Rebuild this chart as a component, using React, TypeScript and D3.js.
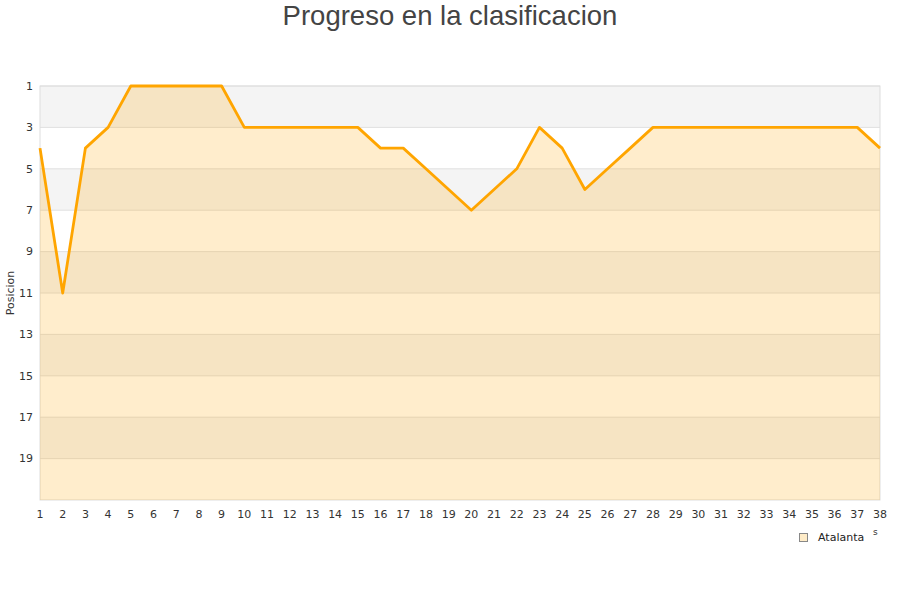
import { useEffect, useRef } from "react";
import * as d3 from "d3";

const rounds = d3.range(1, 39);
const positions = [
  4, 11, 4, 3, 1, 1, 1, 1, 1, 3, 3, 3, 3, 3, 3, 4, 4, 5, 6, 7, 6, 5, 3, 4, 6,
  5, 4, 3, 3, 3, 3, 3, 3, 3, 3, 3, 3, 4,
];
const yTicks = [1, 3, 5, 7, 9, 11, 13, 15, 17, 19];
const teamName = "Atalanta";

export default function App() {
  const svgRef = useRef<SVGSVGElement>(null);

  useEffect(() => {
    if (!svgRef.current) return;
    const width = 900;
    const height = 600;
    const margin = { top: 86, right: 20, bottom: 100, left: 40 };

    const svg = d3.select(svgRef.current);
    svg.selectAll("*").remove();

    const x = d3
      .scaleLinear()
      .domain([1, 38])
      .range([margin.left, width - margin.right]);
    const y = d3
      .scaleLinear()
      .domain([1, 21])
      .range([margin.top, height - margin.bottom]);

    // alternating bands
    yTicks.forEach((t, i) => {
      if (i % 2 === 0) {
        svg
          .append("rect")
          .attr("x", margin.left)
          .attr("y", y(t))
          .attr("width", x(38) - x(1))
          .attr("height", y(t + 2) - y(t))
          .attr("fill", "#f4f4f4");
      }
    });

    // gridlines
    yTicks.forEach((t) => {
      svg
        .append("line")
        .attr("x1", margin.left)
        .attr("x2", x(38))
        .attr("y1", y(t))
        .attr("y2", y(t))
        .attr("stroke", "#e0e0e0")
        .attr("stroke-width", 1);
    });

    // frame
    svg
      .append("rect")
      .attr("x", margin.left)
      .attr("y", y(1))
      .attr("width", x(38) - x(1))
      .attr("height", y(21) - y(1))
      .attr("fill", "none")
      .attr("stroke", "#dddddd")
      .attr("stroke-width", 1);

    const area = d3
      .area<number>()
      .x((d, i) => x(rounds[i]))
      .y0(y(21))
      .y1((d) => y(d));
    svg
      .append("path")
      .datum(positions)
      .attr("fill", "rgba(255,165,0,0.2)")
      .attr("d", area);

    const line = d3
      .line<number>()
      .x((d, i) => x(rounds[i]))
      .y((d) => y(d));
    svg
      .append("path")
      .datum(positions)
      .attr("fill", "none")
      .attr("stroke", "#ffa500")
      .attr("stroke-width", 2.8)
      .attr("stroke-linejoin", "round")
      .attr("d", line);

    const font = "DejaVu Sans, sans-serif";

    // y ticks
    svg
      .append("g")
      .selectAll("text")
      .data(yTicks)
      .join("text")
      .attr("x", 33)
      .attr("y", (d) => y(d))
      .attr("dy", "0.35em")
      .attr("text-anchor", "end")
      .attr("font-family", font)
      .attr("font-size", 11)
      .attr("fill", "#333")
      .text((d) => d);

    // x ticks
    svg
      .append("g")
      .selectAll("text")
      .data(rounds)
      .join("text")
      .attr("x", (d) => x(d))
      .attr("y", 518)
      .attr("text-anchor", "middle")
      .attr("font-family", font)
      .attr("font-size", 11)
      .attr("fill", "#333")
      .text((d) => d);

    // y title
    svg
      .append("text")
      .attr("transform", `translate(14,${(y(1) + y(21)) / 2}) rotate(-90)`)
      .attr("text-anchor", "middle")
      .attr("font-family", font)
      .attr("font-size", 11)
      .attr("fill", "#333")
      .text("Posicion");

    // title
    svg
      .append("text")
      .attr("x", width / 2)
      .attr("y", 25)
      .attr("text-anchor", "middle")
      .attr("font-family", "Liberation Sans, Arial, sans-serif")
      .attr("font-size", 27.5)
      .attr("fill", "#444")
      .text("Progreso en la clasificacion");

    // legend
    svg
      .append("rect")
      .attr("x", 799.5)
      .attr("y", 533.5)
      .attr("width", 8)
      .attr("height", 8)
      .attr("fill", "#ffecc8")
      .attr("stroke", "#888")
      .attr("stroke-width", 1);
    svg
      .append("text")
      .attr("x", 818)
      .attr("y", 541)
      .attr("font-family", font)
      .attr("font-size", 11)
      .attr("fill", "#222")
      .text(teamName);
    svg
      .append("text")
      .attr("x", 873)
      .attr("y", 535)
      .attr("font-family", font)
      .attr("font-size", 9)
      .attr("fill", "#333")
      .text("s");
  }, []);

  return (
    <svg
      ref={svgRef}
      width={900}
      height={600}
      style={{ position: "absolute", left: 0, top: 0, background: "#fff" }}
    />
  );
}
